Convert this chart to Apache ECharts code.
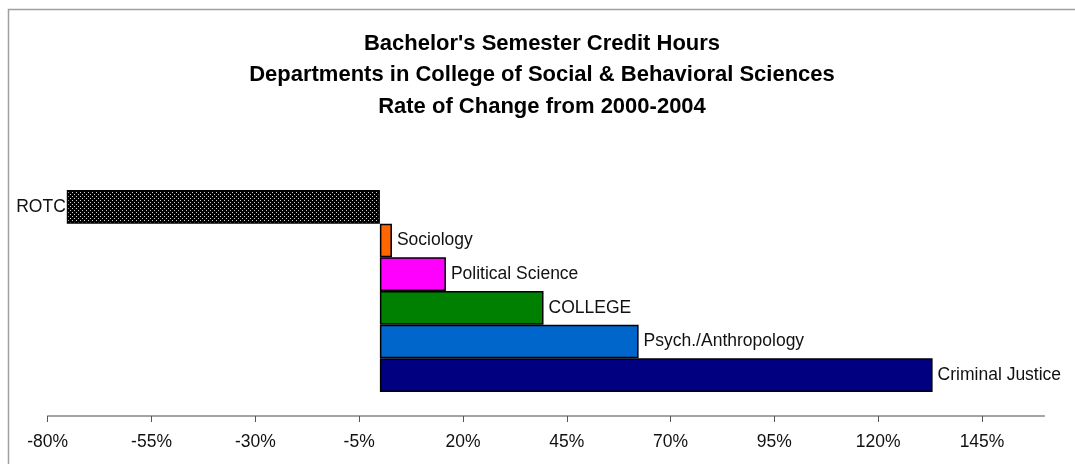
<!DOCTYPE html>
<html>
<head>
<meta charset="utf-8">
<script src="https://cdn.jsdelivr.net/npm/echarts@6/dist/echarts.min.js"></script>
<style>html,body{margin:0;padding:0;background:#fff}#c{width:1075px;height:464px}</style>
</head>
<body>
<div id="c"></div>
<script>
const categories = ['ROTC', 'Sociology', 'Political Science', 'COLLEGE', 'Psych./Anthropology', 'Criminal Justice'];
const values = [-75.4, 2.9, 15.9, 39.4, 62.3, 133.1];
const tickValues = [-80, -55, -30, -5, 20, 45, 70, 95, 120, 145];
const titleLines = ["Bachelor's Semester Credit Hours", 'Departments in College of Social & Behavioral Sciences', 'Rate of Change from 2000-2004'];

const colors = [null, '#FF6600', '#FF00FF', '#008000', '#0066CC', '#000080'];

// dotted pattern for ROTC
const pc = document.createElement('canvas');
pc.width = 4; pc.height = 4;
const px = pc.getContext('2d');
px.fillStyle = '#000'; px.fillRect(0, 0, 4, 4);
px.fillStyle = '#d0d0d0';
px.fillRect(0, 0, 1, 1);
px.fillRect(2, 2, 1, 1);

const chart = echarts.init(document.getElementById('c'), null, {renderer: 'canvas'});
chart.setOption({
  animation: false,
  backgroundColor: '#fff',
  graphic: [{
    type: 'rect', left: 6, top: 7, z: -1,
    shape: {width: 1200, height: 600},
    style: {fill: 'none', stroke: '#a0a0a0', lineWidth: 1.5}
  }],
  title: {
    text: titleLines.join('\n'),
    left: 537, top: 23, textAlign: 'center',
    textStyle: {fontFamily: 'Liberation Sans, Arial', fontWeight: 'bold', fontSize: 22, lineHeight: 31.5, color: '#000'}
  },
  grid: {left: 47.7, right: 30.7, top: 190, bottom: 72, containLabel: false},
  xAxis: {
    type: 'value', min: -80, max: 160, offset: 24,
    axisLine: {show: true, lineStyle: {color: '#888', width: 1.5}},
    axisTick: {show: true, length: 6, lineStyle: {color: '#555'}, customValues: tickValues},
    axisLabel: {
      customValues: tickValues, margin: 17,
      formatter: v => v + '%',
      fontFamily: 'Liberation Sans, Arial', fontSize: 17.5, color: '#111'
    },
    splitLine: {show: false}
  },
  yAxis: {
    type: 'category', data: categories, inverse: true,
    axisLine: {show: false}, axisTick: {show: false}, axisLabel: {show: false}
  },
  series: [{
    type: 'bar',
    barCategoryGap: 0,
    data: values.map((v, i) => ({
      value: v,
      itemStyle: {color: i === 0 ? {image: pc, repeat: 'repeat'} : colors[i]},
      label: {position: v < 0 ? 'left' : 'right', distance: v < 0 ? 1 : 5}
    })),
    itemStyle: {borderColor: '#000', borderWidth: 1.5},
    label: {
      show: true, formatter: '{b}',
      fontFamily: 'Liberation Sans, Arial', fontSize: 17.5, color: '#111'
    }
  }]
});
</script>
</body>
</html>
